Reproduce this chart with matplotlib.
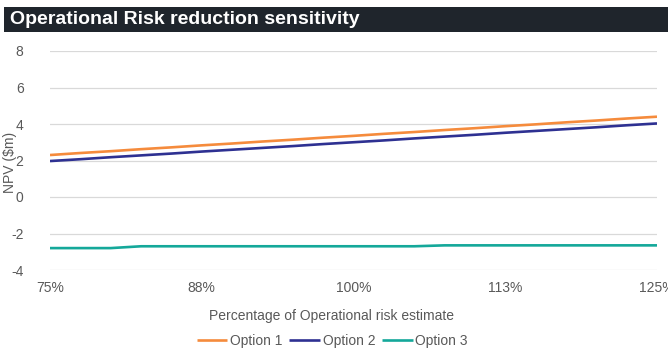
import matplotlib
matplotlib.use("Agg")
import matplotlib.pyplot as plt
from matplotlib.patches import Rectangle

# sensitivity inputs (% of operational risk estimate) and NPV results ($m)
pct = [75, 77.5, 80, 82.5, 85, 87.5, 90, 92.5, 95, 97.5, 100,
       102.5, 105, 107.5, 110, 112.5, 115, 117.5, 120, 122.5, 125]
option1 = [2.30, 2.41, 2.51, 2.62, 2.72, 2.83, 2.93, 3.04, 3.14, 3.25, 3.35,
           3.46, 3.56, 3.67, 3.77, 3.88, 3.98, 4.09, 4.19, 4.30, 4.40]
option2 = [1.97, 2.07, 2.18, 2.28, 2.38, 2.49, 2.59, 2.69, 2.79, 2.90, 3.00,
           3.10, 3.21, 3.31, 3.41, 3.52, 3.62, 3.72, 3.82, 3.93, 4.03]
option3 = [-2.80, -2.80, -2.80, -2.70, -2.70, -2.70, -2.70, -2.70, -2.70, -2.70, -2.70,
           -2.70, -2.70, -2.65, -2.65, -2.65, -2.65, -2.65, -2.65, -2.65, -2.65]
series_names = ["Option 1", "Option 2", "Option 3"]
colors = ["#F58B3C", "#2E3192", "#14A89A"]
xticks = [75, 87.5, 100, 112.5, 125]
xtick_labels = ["75%", "88%", "100%", "113%", "125%"]
yticks = [-4, -2, 0, 2, 4, 6, 8]

plt.rcParams["font.family"] = ["Liberation Sans", "DejaVu Sans"]
plt.rcParams["axes.unicode_minus"] = False
grey = "#595959"
fs = 10

fig = plt.figure(figsize=(6.68, 3.53), dpi=100)

# dark title banner
fig.patches.append(Rectangle((4 / 668, 1 - 32 / 353), 664 / 668, 25 / 353,
                             transform=fig.transFigure, facecolor="#1F252C",
                             edgecolor="none", zorder=0))
fig.text(10 / 668, 1 - 19.5 / 353, "Operational Risk reduction sensitivity",
         color="white", fontsize=14, fontweight="bold", va="center", ha="left")

ax = fig.add_axes([50 / 668, 83 / 353, 607 / 668, 219 / 353])
for vals, name, c in zip([option1, option2, option3], series_names, colors):
    ax.plot(pct, vals, color=c, lw=1.9, label=name, solid_capstyle="butt")

ax.set_xlim(75, 125)
ax.set_ylim(-4, 8)
ax.set_xticks(xticks)
ax.set_xticklabels(xtick_labels)
ax.set_yticks(yticks)
ax.tick_params(length=0, labelsize=fs, labelcolor=grey)
ax.tick_params(axis="y", pad=19)
ax.tick_params(axis="x", pad=8)
ax.grid(axis="y", color="#D9D9D9", lw=0.9)
ax.set_axisbelow(True)
for s in ax.spines.values():
    s.set_visible(False)

ax.set_xlabel("Percentage of Operational risk estimate", fontsize=fs, color=grey, labelpad=10)
ax.xaxis.label.set_x(0.463)
ax.set_ylabel("NPV ($m)", fontsize=fs, color=grey)
ax.yaxis.set_label_coords(-0.054, 0.49)

ax.legend(loc="center", bbox_to_anchor=(0.465, -0.325), ncol=3, frameon=False,
          fontsize=fs, labelcolor=grey, handlelength=2.2, handletextpad=0.2,
          columnspacing=0.5)

plt.savefig("out.png", dpi=100)
